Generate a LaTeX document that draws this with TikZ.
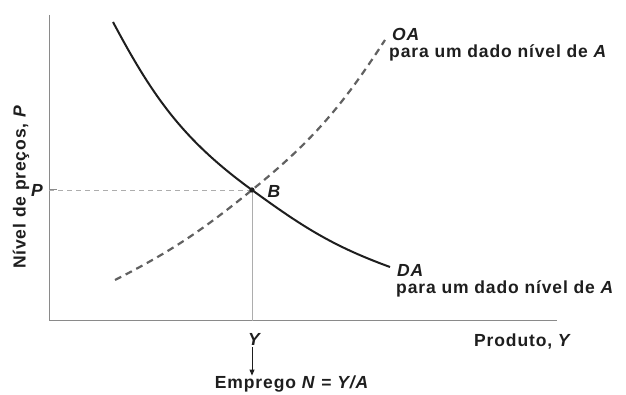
\documentclass[tikz,border=0pt]{standalone}
\usepackage{fontspec}
\setmainfont{Liberation Sans}[LetterSpace=5]
\usetikzlibrary{arrows.meta}
\definecolor{ink}{HTML}{1E1E1E}
\definecolor{axisgray}{HTML}{8A8A8A}
\tikzset{
  lbl/.style={font=\fontsize{17.5}{20}\selectfont\bfseries, text=ink, inner sep=0pt},
  ilbl/.style={font=\fontsize{17.5}{20}\selectfont\bfseries\itshape, text=ink, inner sep=0pt},
  axis/.style={draw=axisgray, line width=1pt},
  guide/.style={draw=axisgray!70, line width=0.8pt},
  dcurve/.style={draw=ink, line width=2pt},
  ocurve/.style={draw=ink!70, line width=2.2pt, dash pattern=on 7pt off 5pt},
}
\begin{document}
\begin{tikzpicture}[x=1pt,y=1pt]
\useasboundingbox (0,0) rectangle (626,395);
% axes
\coordinate (O) at (49,74);
\coordinate (ytop) at (49,380);
\coordinate (xend) at (557,74);
\draw[axis] (ytop) -- (O) -- (xend);
% equilibrium
\coordinate (B) at (252,205);
\coordinate (Pt) at (49,205);
\coordinate (Yt) at (252,74);
\draw[guide, dash pattern=on 5pt off 4pt] (Pt) -- (B);
\draw[axis] (Pt) -- ++(8,0);
\draw[guide] (B) -- (Yt);
% curves
\coordinate (DAs) at (113,373);
\coordinate (DAe) at (390,128);
\coordinate (OAs) at (115,115);
\coordinate (OAe) at (385,355);
\draw[ocurve] (OAs) to[out=27,in=-141] (B) to[out=39,in=-123] (OAe);
\draw[dcurve] (DAs) to[out=-62,in=144] (B) to[out=-36,in=160] (DAe);
\fill[ink] (B) circle (2.6pt);
% labels
\node[ilbl, anchor=west] (lOA) at (392,361) {OA};
\node[lbl, anchor=west] (pOA) at (389,342) {para um dado nível de \textit{A}};
\node[ilbl, anchor=west] (lDA) at (397,125) {DA};
\node[lbl, anchor=west] (pDA) at (396,106) {para um dado nível de \textit{A}};
\node[lbl] (prod) at (523,53) {Produto, \textit{Y}};
\node[ilbl] (lY) at (254,56) {Y};
\node[ilbl] (lP) at (37,205) {P};
\node[ilbl] (lB) at (274,204) {B};
\node[lbl, rotate=90] (ylab) at (21,208) {Nível de preços, \textit{P}};
\node[lbl] (emp) at (292,11) {Emprego \textit{N} = \textit{Y/A}};
\draw[ink, line width=1pt, -{Triangle[length=6pt,width=5pt]}] (252,48) coordinate (a1) -- (emp.north -| a1);
\end{tikzpicture}
\end{document}
